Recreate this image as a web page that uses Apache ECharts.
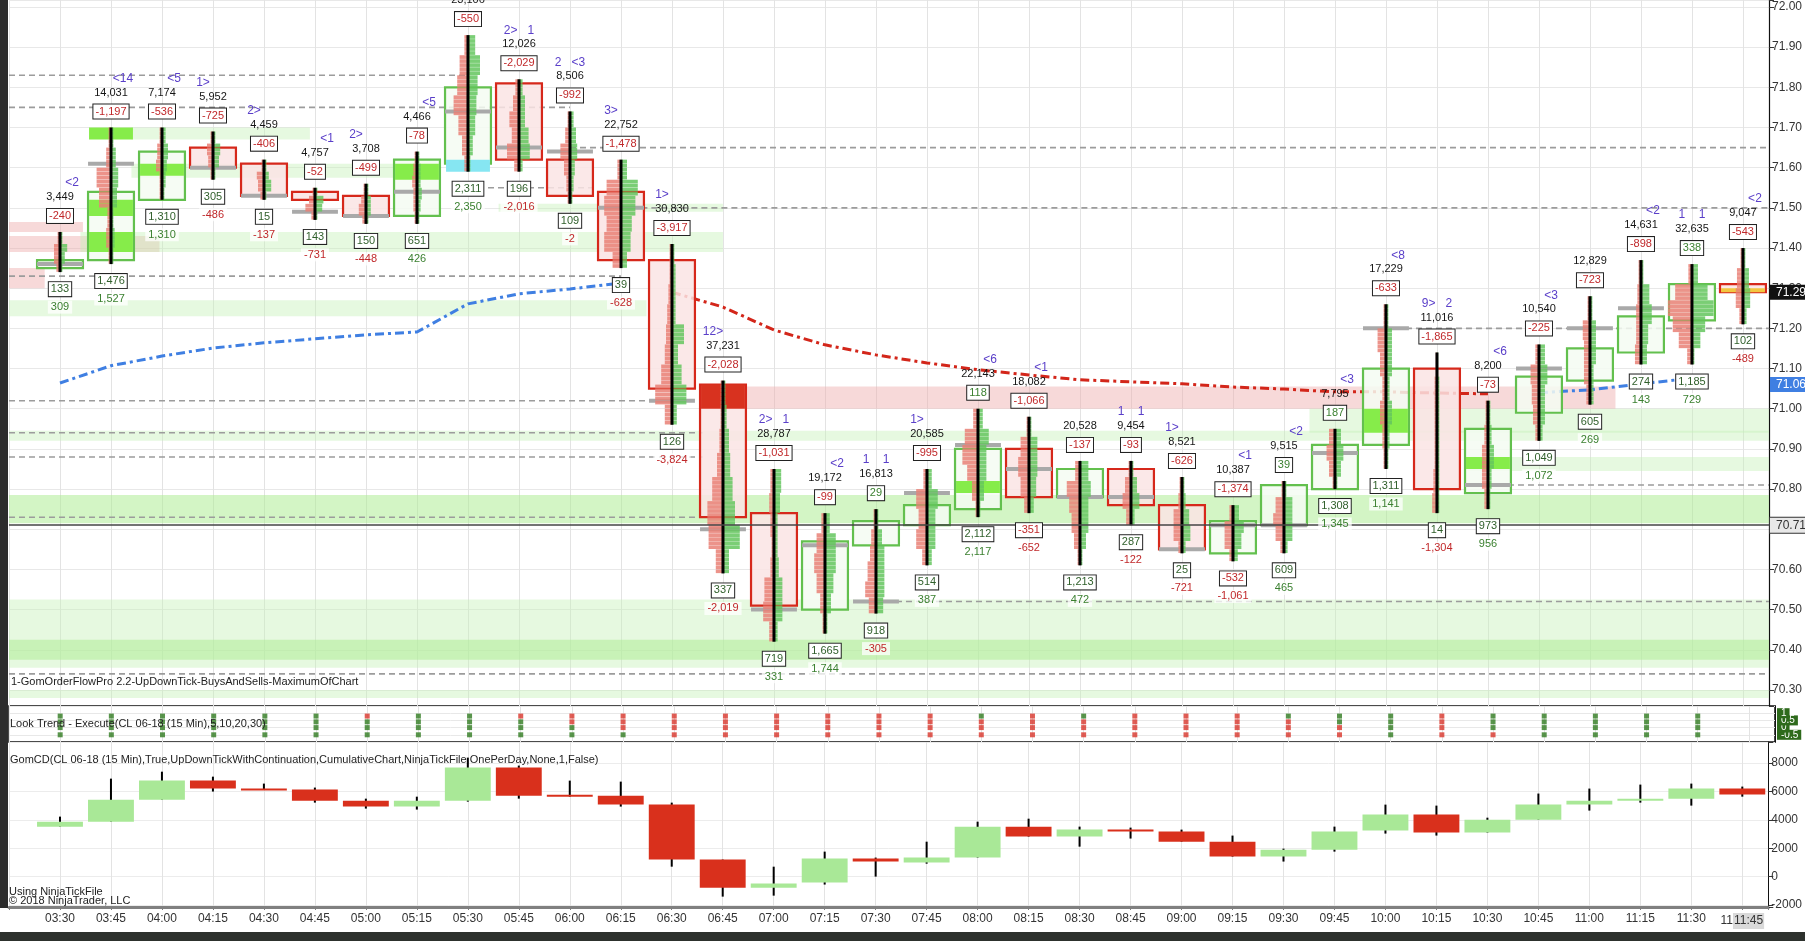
<!DOCTYPE html>
<html>
<head>
<meta charset="utf-8">
<title>CL 06-18 (15 Min)</title>
<script src="https://cdn.jsdelivr.net/npm/echarts@6/dist/echarts.min.js"></script>
</head>
<body style="margin:0;padding:0;background:#fff">
<div id="chart" style="width:1805px;height:941px;"></div>
<script>
var times = ['03:30','03:45','04:00','04:15','04:30','04:45','05:00','05:15','05:30','05:45','06:00','06:15',
  '06:30','06:45','07:00','07:15','07:30','07:45','08:00','08:15','08:30','08:45','09:00','09:15',
  '09:30','09:45','10:00','10:15','10:30','10:45','11:00','11:15','11:30','11:45'];

// price bars
var open  = [71.35,71.37,71.52,71.65,71.61,71.54,71.53,71.48,71.61,71.81,71.62,71.54,71.37,71.06,70.74,70.50,70.66,70.71,70.75,70.90,70.78,70.85,70.76,70.64,70.71,70.80,70.91,71.10,70.79,70.99,71.07,71.14,71.22,71.31];
var high  = [71.44,71.70,71.70,71.69,71.62,71.55,71.56,71.64,71.93,71.82,71.74,71.62,71.41,71.07,70.85,70.74,70.75,70.85,71.00,70.98,70.87,70.87,70.83,70.76,70.82,70.95,71.26,71.14,71.02,71.16,71.28,71.37,71.36,71.40];
var low   = [71.34,71.36,71.52,71.57,71.52,71.47,71.46,71.46,71.59,71.59,71.51,71.35,70.96,70.59,70.42,70.44,70.49,70.61,70.73,70.74,70.61,70.71,70.64,70.62,70.64,70.80,70.85,70.74,70.75,70.92,71.01,71.11,71.11,71.21];
var close = [71.37,71.54,71.64,71.60,71.53,71.52,71.48,71.62,71.80,71.62,71.53,71.37,71.05,70.73,70.51,70.67,70.72,70.76,70.90,70.78,70.85,70.76,70.65,70.72,70.81,70.91,71.10,70.80,70.95,71.08,71.15,71.23,71.31,71.29];
var poc   = [71.36,71.61,null,71.60,71.53,71.49,71.48,71.54,71.74,71.65,71.64,71.50,71.02,70.70,70.50,70.66,70.52,70.79,70.91,70.85,70.78,70.78,70.65,70.71,70.71,70.89,71.20,null,70.81,71.10,71.20,71.25,null,null];

// coarse footprint per bar, high to low in equal slices: [bid, ask] relative volume
var profile = [
  [[2,2],[5,6],[5,4],[3,2]],
  [[2,2],[4,4],[12,6],[10,5],[3,2],[4,3],[2,2]],
  [[2,3],[4,5],[5,4],[2,3],[2,2]],
  [[2,2],[5,6],[4,5],[2,2]],
  [[2,2],[6,4],[5,6],[3,2]],
  [[2,2],[5,7],[8,6],[3,2]],
  [[2,2],[4,4],[6,4],[3,2]],
  [[2,2],[3,3],[4,3],[3,4],[3,3],[2,2]],
  [[3,6],[7,10],[9,8],[12,7],[8,6],[5,4],[3,2]],
  [[3,3],[5,5],[8,5],[6,8],[10,9],[4,3]],
  [[2,3],[4,5],[8,6],[5,4],[3,3],[2,2]],
  [[3,5],[12,14],[14,12],[12,9],[14,8],[7,5]],
  [[2,2],[2,3],[3,3],[4,3],[5,10],[6,5],[9,8],[14,12],[6,4]],
  [[2,2],[2,3],[3,5],[5,6],[9,8],[13,10],[12,14],[6,5]],
  [[3,6],[4,5],[3,3],[2,3],[3,4],[8,7],[9,7],[4,3]],
  [[3,4],[7,9],[9,9],[7,7],[4,5],[2,2]],
  [[2,2],[4,5],[5,7],[7,7],[9,7],[6,6]],
  [[3,4],[9,9],[7,7],[9,7],[4,4]],
  [[4,4],[11,9],[13,7],[9,7],[5,5],[2,2]],
  [[2,2],[7,7],[9,7],[7,6],[4,4]],
  [[4,7],[11,9],[9,7],[7,7],[5,5],[2,2]],
  [[2,2],[5,5],[7,7],[4,3]],
  [[2,2],[3,3],[7,6],[7,7],[3,3]],
  [[3,5],[7,9],[7,7],[3,4]],
  [[2,2],[7,7],[9,7],[7,7],[3,3]],
  [[5,5],[7,7],[5,5],[2,2]],
  [[2,2],[7,5],[5,5],[3,3],[5,5],[3,3],[2,2]],
  [[1,1],[2,2],[2,2],[2,2],[2,2],[3,2],[4,2]],
  [[2,2],[3,3],[5,5],[5,3],[3,2]],
  [[3,5],[7,7],[6,5],[5,5],[3,3]],
  [[2,2],[6,5],[5,5],[5,3],[3,3]],
  [[2,2],[3,7],[4,9],[4,6],[5,5]],
  [[3,5],[14,13],[20,18],[16,11],[11,7],[4,2]],
  [[2,2],[5,5],[6,6],[3,3]]
];

// labels printed round each bar
var volume   = [3449,14031,7174,5952,4459,4757,3708,4466,23106,12026,8506,22752,30830,37231,28787,19172,16813,20585,22143,18082,20528,9454,8521,10387,9515,7795,17229,11016,8200,10540,12829,14631,32635,9047];
var deltaTop = [-240,-1197,-536,-725,-406,-52,-499,-78,-550,-2029,-992,-1478,-3917,-2028,-1031,-99,29,-995,118,-1066,-137,-93,-626,-1374,39,187,-633,-1865,-73,-225,-723,-898,338,-543];
var deltaLow = [133,1476,1310,305,15,143,150,651,2311,196,109,39,126,337,719,1665,918,514,2112,-351,1213,287,25,-532,609,1308,1311,14,973,1049,605,274,1185,102];
var deltaSum = [309,1527,1310,-486,-137,-731,-448,426,2350,-2016,-2,-628,-3824,-2019,331,1744,-305,387,2117,-652,472,-122,-721,-1061,465,1345,1141,-1304,956,1072,269,143,729,-489];
var notes    = ['<2','<14','<5','1>','2>','<1','2>','<5','','2>   1','2   <3','3>','1>','12>','2>   1','<2','1    1','1>','<6','<1','','1    1','1>','<1','<2','<3','<8','9>   2','<6','<3','','<2','1    1','<2'];

// moving average (dash-dot)
var ma = [71.064,71.107,71.131,71.151,71.164,71.174,71.184,71.191,71.261,71.286,71.298,71.313,71.29,71.253,71.196,71.159,71.134,71.114,71.097,71.084,71.072,71.067,71.062,71.054,71.049,71.042,71.042,71.039,71.037,71.040,71.047,71.062,71.076,null];
var maUpTo = 11, maUpFrom = 29;

// imbalance blocks inside bars: [bar, low, high, kind]
var fills = [[1,71.67,71.70,'lime'],[1,71.48,71.52,'lime'],[1,71.39,71.44,'lime'],[2,71.58,71.61,'lime'],
  [7,71.57,71.61,'lime'],[8,71.59,71.62,'cyan'],[13,71.00,71.06,'red'],[18,70.79,70.82,'lime'],
  [26,70.94,71.00,'lime'],[28,70.85,70.88,'lime'],[33,71.29,71.30,'yellow']];

// shaded zones: [from bar, to bar, low, high, kind]
var zones = [[-1,0.45,71.44,71.465,'pink'],[-1,1.95,71.39,71.43,'pink'],[-1,-0.3,71.30,71.35,'pink'],
  [12.6,30.5,71.00,71.055,'pink'],
  [1.4,4.9,71.67,71.70,'g1'],[1.4,7.4,71.575,71.61,'g1'],[8.6,13,71.49,71.51,'g1'],[0.4,13,71.39,71.44,'g1'],
  [-1,11.5,71.23,71.27,'g1'],[-1,33.51,70.92,70.945,'g1'],[24.5,33.51,70.94,71.00,'g1'],[27.6,33.51,70.845,70.88,'g1'],
  [-1,33.51,70.715,70.785,'g2'],[-1,33.51,70.355,70.525,'g1'],[-1,33.51,70.375,70.425,'g2'],[-1,33.51,70.28,70.30,'g1']];

// naked POC levels: [from bar, to bar, price]
var levels = [[-1,8,71.83],[-1,10,71.75],[10,33.51,71.65],[8,10.5,71.55],[11.4,33.51,71.50],[-1,11,71.33],
  [26,33.51,71.20],[-1,12.1,71.02],[-1,12.6,70.94],[-1,12.6,70.88],[28,33.51,70.81],[-1,12.6,70.73],
  [16,33.51,70.52],[-1,33.51,70.34]];
var lastPrice = 71.29, maPrice = 71.06, priorClose = 70.71;

// Look Trend rows (5,10,20,30) per bar, G = up, R = down
var trend = ['GGGG','GGGG','GGGG','GGGG','GGGG','GGGG','RGGG','GGGG','GGGG','RGGG','RRGG','RRRG','RRRR','RRRR','RRRR','RRRR','RRRR','RRRR',
  'GRRR','RRRR','GRRR','RRRR','RRRR','RRRR','GRRR','GGRR','GGGG','RRRR','GGGR','GGGG','GGGG','GGGG','GGGG',''];
var trendRows = [0.8, 0.4, 0, -0.5];

// GomCD cumulative delta bars
var cdOpen  = [3520,3870,5420,6760,6200,6130,5350,4930,5350,7680,5770,5700,5070,1200,-780,-420,1270,990,1340,3520,2820,3310,3170,2460,1410,1900,3240,4370,3100,4010,5070,5350,5490,6200];
var cdClose = [3870,5420,6760,6200,6130,5350,4930,5350,7680,5700,5700,5070,1200,-780,-490,1270,1060,1340,3520,2820,3310,3170,2460,1410,1900,3170,4370,3100,4010,5070,5350,5490,6200,5780];
var cdHigh  = [4225,6900,7390,7040,6550,6270,5490,5630,8380,7820,6760,6690,5210,1200,700,1760,1340,2460,3870,4080,3520,3450,3310,2890,1970,3520,5070,5000,4150,5850,6200,6480,6550,6340];
var cdLow   = [3520,3870,5420,5990,6130,5210,4790,4720,5280,5490,5630,4930,700,-1410,-1340,-560,0,910,1340,2820,2110,2680,2460,1410,1060,1760,3030,2890,3100,4010,4650,5210,5000,5630];

var XMIN = -1, XMAX = 33.51, TICK = 0.01;
var FONT = '"Liberation Sans", Arial, sans-serif';
var GREEN_TXT = '#3b8030', RED_TXT = '#c0282a';

function fmt(n) { return n.toLocaleString('en-US'); }
function signColor(n) { return n < 0 ? RED_TXT : GREEN_TXT; }

var chart = echarts.init(document.getElementById('chart'));

function xAxisCfg(grid, showLabels) {
  return {
    type: 'value', gridIndex: grid, min: XMIN, max: XMAX, interval: 1,
    axisLine: showLabels ? { show: true, onZero: false, lineStyle: { color: '#808080', width: 3 } } : { show: false, onZero: false },
    axisTick: { show: showLabels, length: 3, lineStyle: { color: '#808080' } },
    splitLine: { show: true, lineStyle: { color: '#e3e3e3', width: 1 } },
    axisLabel: {
      show: showLabels, margin: 6, fontSize: 12, fontFamily: FONT, color: '#333',
      formatter: function (v) {
        if (v < 0 || Math.abs(v - Math.round(v)) > 1e-6 || !times[v]) return '';
        return v === times.length - 1 ? '11{hl|' + times[v] + '}' : times[v];
      },
      rich: { hl: { backgroundColor: '#d9d9d9', fontSize: 12, fontFamily: FONT, color: '#333', padding: [2, 1] } }
    }
  };
}

// zones
var zoneColor = { pink: 'rgba(238,170,170,0.45)', g1: 'rgba(196,240,180,0.42)', g2: 'rgba(175,236,150,0.55)' };
var zoneSeries = {
  type: 'custom', xAxisIndex: 0, yAxisIndex: 0, z: 1, silent: true, clip: true,
  data: zones.map(function (z) { return [z[0], z[2]]; }),
  renderItem: function (params, api) {
    var z = zones[params.dataIndex];
    var a = api.coord([z[0], z[3]]), b = api.coord([z[1], z[2]]);
    return { type: 'rect', shape: { x: a[0], y: a[1], width: b[0] - a[0], height: b[1] - a[1] },
      style: { fill: zoneColor[z[4]] } };
  }
};

var levelSeries = {
  type: 'custom', xAxisIndex: 0, yAxisIndex: 0, z: 2, silent: true, clip: true,
  data: levels.map(function (l) { return [l[0], l[2]]; }),
  renderItem: function (params, api) {
    var l = levels[params.dataIndex];
    var a = api.coord([l[0], l[2]]), b = api.coord([l[1], l[2]]);
    return { type: 'line', shape: { x1: a[0], y1: a[1], x2: b[0], y2: b[1] },
      style: { stroke: '#9c9c9c', lineWidth: 1.6, lineDash: [6, 4] } };
  }
};

var fillColor = { lime: '#86ec4a', cyan: '#86e6f2', red: '#d8321f', yellow: '#f2c640' };
var candleSeries = {
  type: 'custom', xAxisIndex: 0, yAxisIndex: 0, z: 4, silent: true,
  data: times.map(function (t, i) { return [i, open[i], high[i], low[i], close[i]]; }),
  renderItem: function (params, api) {
    var i = params.dataIndex;
    var w = api.size([0.9, 0])[0];
    var up = close[i] >= open[i];
    var t = api.coord([i, Math.max(open[i], close[i])]);
    var b = api.coord([i, Math.min(open[i], close[i])]);
    var h = api.coord([i, high[i]]), l = api.coord([i, low[i]]);
    var kids = [{
      type: 'rect', shape: { x: t[0] - w / 2, y: t[1], width: w, height: Math.max(b[1] - t[1], 3) },
      style: { fill: up ? 'rgba(244,251,242,0.85)' : 'rgba(250,228,228,0.85)', stroke: up ? '#63c04e' : '#d6281b', lineWidth: 2.2 }
    }];
    fills.forEach(function (f) {
      if (f[0] !== i) return;
      var p = api.coord([i, f[2]]), q = api.coord([i, f[1]]);
      kids.push({ type: 'rect', shape: { x: p[0] - w / 2 + 1, y: p[1], width: w - 2, height: q[1] - p[1] },
        style: { fill: fillColor[f[3]] } });
    });
    if (poc[i] != null) {
      var pc = api.coord([i, poc[i]]);
      kids.push({ type: 'rect', shape: { x: pc[0] - w / 2, y: pc[1] - 2, width: w, height: 4 },
        style: { fill: '#a9a9a9' } });
    }
    // footprint: one row per tick, bid to the left of the wick, ask to the right
    var prof = profile[i];
    var nTicks = Math.round((high[i] - low[i]) / TICK);
    var rowH = api.size([0, TICK])[1];
    for (var k = 0; k < nTicks; k++) {
      var price = high[i] - k * TICK;
      var seg = prof[Math.min(prof.length - 1, Math.floor(k * prof.length / nTicks))];
      var y = api.coord([i, price])[1];
      kids.push({ type: 'rect', shape: { x: h[0] - seg[0] * 1.2, y: y, width: seg[0] * 1.2, height: rowH - 0.3 },
        style: { fill: 'rgba(233,128,118,0.85)' } });
      kids.push({ type: 'rect', shape: { x: h[0], y: y, width: seg[1] * 1.2, height: rowH - 0.3 },
        style: { fill: 'rgba(100,197,94,0.85)' } });
    }
    kids.push({ type: 'line', shape: { x1: h[0], y1: h[1], x2: l[0], y2: l[1] },
      style: { stroke: '#000', lineWidth: 3 } });
    return { type: 'group', children: kids };
  }
};

function maData(blue) {
  return ma.map(function (v, i) {
    var onBlue = i <= maUpTo || i >= maUpFrom;
    return [i, (blue === onBlue && v != null) ? v : null];
  });
}

// texts round the bars, drawn through the price scale
function textLayer(items, base) {
  return {
    type: 'custom', xAxisIndex: 0, yAxisIndex: 0, z: 6, silent: true,
    data: items.map(function (it) { return it.value; }),
    renderItem: function (params, api) {
      var it = items[params.dataIndex];
      var p = api.coord(it.value);
      var off = it.offset || base.offset;
      var st = {
        text: it.text, x: p[0] + off[0], y: p[1] + off[1], align: 'center', verticalAlign: 'middle',
        font: (base.size || 11) + 'px ' + FONT, fill: it.color || base.color
      };
      if (base.box) {
        st.backgroundColor = base.bg; st.borderColor = base.border; st.borderWidth = base.border ? 1 : 0;
        st.padding = base.pad;
      }
      return { type: 'text', style: st };
    }
  };
}

var noteItems = [], volItems = [], topItems = [], lowItems = [], sumItems = [];
times.forEach(function (t, i) {
  var n = notes[i];
  if (n) {
    var dx = n.charAt(0) === '<' ? 12 : (n.charAt(n.length - 1) === '>' ? -10 : 0);
    noteItems.push({ text: n, value: [i, high[i]], offset: [dx, -49] });
  }
  volItems.push({ text: fmt(volume[i]), value: [i, high[i]] });
  topItems.push({ text: fmt(deltaTop[i]), value: [i, high[i]], color: signColor(deltaTop[i]) });
  lowItems.push({ text: fmt(deltaLow[i]), value: [i, low[i]], color: deltaLow[i] < 0 ? RED_TXT : '#2f5f2a' });
  sumItems.push({ text: fmt(deltaSum[i]), value: [i, low[i]], color: signColor(deltaSum[i]) });
});

var trendItems = [];
trend.forEach(function (s, i) {
  for (var k = 0; k < s.length; k++) {
    trendItems.push({ value: [i, trendRows[k]], itemStyle: { color: s.charAt(k) === 'G' ? '#2f7a1f' : '#d8342a' } });
  }
});

var cdSeries = {
  type: 'custom', xAxisIndex: 2, yAxisIndex: 2, z: 4, silent: true,
  data: times.map(function (t, i) { return [i, cdOpen[i], cdClose[i], cdLow[i], cdHigh[i]]; }),
  renderItem: function (params, api) {
    var i = params.dataIndex;
    var w = api.size([0.9, 0])[0];
    var up = cdClose[i] >= cdOpen[i];
    var t = api.coord([i, Math.max(cdOpen[i], cdClose[i])]);
    var b = api.coord([i, Math.min(cdOpen[i], cdClose[i])]);
    var h = api.coord([i, cdHigh[i]]), l = api.coord([i, cdLow[i]]);
    return { type: 'group', children: [
      { type: 'line', shape: { x1: h[0], y1: h[1], x2: l[0], y2: l[1] }, style: { stroke: '#000', lineWidth: 2 } },
      { type: 'rect', shape: { x: t[0] - w / 2, y: t[1], width: w, height: Math.max(b[1] - t[1], 2) },
        style: { fill: up ? '#a9e897' : '#d9301c' } }
    ] };
  }
};

var tag = function (price, bg, fg, line) {
  return {
    yAxis: price,
    lineStyle: line ? { color: '#444', width: 1.5, type: 'solid' } : { color: 'rgba(0,0,0,0)', width: 0 },
    label: { show: true, position: 'end', distance: 1, formatter: price.toFixed(2), backgroundColor: bg, color: fg,
      fontSize: 12, fontFamily: FONT, padding: [2, 4, 1, 6], borderColor: '#333', borderWidth: bg === '#e8e8e8' ? 1 : 0 }
  };
};

var option = {
  animation: false,
  backgroundColor: '#fff',
  grid: [
    { left: 9, right: 30, top: 0, height: 706 },
    { left: 9, right: 30, top: 706, height: 36, show: true, borderColor: '#111', borderWidth: 1.5, backgroundColor: '#fff' },
    { left: 9, right: 30, top: 742, height: 165 }
  ],
  xAxis: [xAxisCfg(0, false), xAxisCfg(1, false), xAxisCfg(2, true)],
  yAxis: [
    { type: 'value', gridIndex: 0, position: 'right', min: 70.26, max: 72.0174, splitNumber: 17,
      axisLine: { show: true, onZero: false, lineStyle: { color: '#111', width: 1.2 } },
      axisTick: { show: true, length: 5, lineStyle: { color: '#333' } },
      splitLine: { show: true, lineStyle: { color: '#e8e8e8' } },
      axisLabel: { margin: 3, fontSize: 12, fontFamily: FONT, color: '#333',
        formatter: function (v) { return Math.abs(v * 10 - Math.round(v * 10)) < 1e-6 ? v.toFixed(2) : ''; } } },
    { type: 'value', gridIndex: 1, position: 'right', min: -1, max: 1.5, interval: 0.5,
      axisLine: { show: true, onZero: false, lineStyle: { color: '#111' } },
      axisTick: { show: false },
      splitLine: { show: true, lineStyle: { color: '#e8e8e8' } },
      axisLabel: { margin: 2, fontSize: 10, fontFamily: FONT, color: '#fff', backgroundColor: '#2e6a1c',
        padding: [0, 3, 0, 4],
        formatter: function (v) { return (v >= 1.01 || v <= -0.99) ? '' : String(v); } } },
    { type: 'value', gridIndex: 2, position: 'right', min: -2140, max: 9480, splitNumber: 6,
      axisLine: { show: true, onZero: false, lineStyle: { color: '#111' } },
      axisTick: { show: true, length: 5, lineStyle: { color: '#333' } },
      splitLine: { show: true, lineStyle: { color: '#ececec' } },
      axisLabel: { margin: 3, fontSize: 12, fontFamily: FONT, color: '#333',
        formatter: function (v) { return v % 2000 === 0 ? String(v) : ''; } } }
  ],
  series: [
    zoneSeries,
    levelSeries,
    { type: 'line', xAxisIndex: 0, yAxisIndex: 0, z: 3, silent: true, showSymbol: false, connectNulls: false,
      data: maData(true), lineStyle: { color: '#3f7fe2', width: 3, type: [9, 4, 3, 4] },
      markLine: { silent: true, symbol: 'none', data: [tag(maPrice, '#3f7fe2', '#fff', false)] } },
    { type: 'line', xAxisIndex: 0, yAxisIndex: 0, z: 3, silent: true, showSymbol: false, connectNulls: false,
      data: maData(false), lineStyle: { color: '#d3261a', width: 3, type: [9, 4, 3, 4] },
      markLine: { silent: true, symbol: 'none', data: [tag(lastPrice, '#111', '#fff', false), tag(priorClose, '#e8e8e8', '#333', true)] } },
    candleSeries,
    textLayer(noteItems, { color: '#5a3fc9', size: 12 }),
    textLayer(volItems, { color: '#151515', offset: [0, -35] }),
    textLayer(topItems, { offset: [0, -16], box: true, bg: '#fff', border: '#222', pad: [2, 2, 1, 2] }),
    textLayer(lowItems, { offset: [0, 17], box: true, bg: '#fff', border: '#222', pad: [2, 2, 1, 2] }),
    textLayer(sumItems, { offset: [0, 35], box: true, bg: 'rgba(255,255,255,0.75)', border: null, pad: [1, 3] }),
    { type: 'scatter', xAxisIndex: 1, yAxisIndex: 1, z: 4, silent: true, symbol: 'rect', symbolSize: [5, 5],
      data: trendItems },
    cdSeries
  ],
  graphic: [
    { type: 'rect', left: 0, top: 0, shape: { width: 8, height: 908 }, style: { fill: '#2c2c2c' }, z: 100 },
    { type: 'rect', left: 0, top: 932, shape: { width: 1805, height: 9 }, style: { fill: '#2d312d' }, z: 100 },
    { type: 'text', left: 11, top: 676, z: 100, style: { text: '1-GomOrderFlowPro 2.2-UpDownTick-BuysAndSells-MaximumOfChart', font: '11px ' + FONT, fill: '#222' } },
    { type: 'text', left: 10, top: 718, z: 100, style: { text: 'Look Trend - Execute(CL 06-18 (15 Min),5,10,20,30)', font: '11px ' + FONT, fill: '#222' } },
    { type: 'text', left: 10, top: 754, z: 100, style: { text: 'GomCD(CL 06-18 (15 Min),True,UpDownTickWithContinuation,CumulativeChart,NinjaTickFile,OnePerDay,None,1,False)', font: '11px ' + FONT, fill: '#222' } },
    { type: 'text', left: 9, top: 886, z: 100, style: { text: 'Using NinjaTickFile', font: '11px ' + FONT, fill: '#222' } },
    { type: 'text', left: 9, top: 895, z: 100, style: { text: '\u00a9 2018 NinjaTrader, LLC', font: '11px ' + FONT, fill: '#222' } }
  ]
};

chart.setOption(option);
</script>
</body>
</html>
